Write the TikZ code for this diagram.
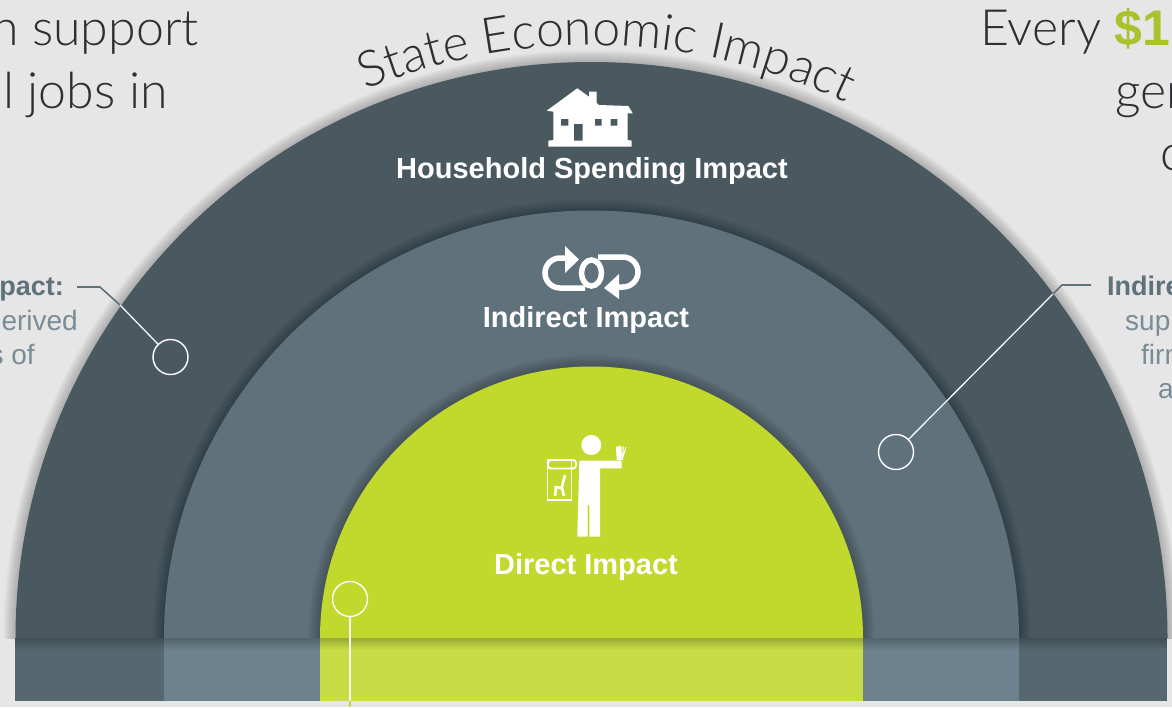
\documentclass[tikz,border=0pt]{standalone}
\usepackage{fontspec}
\setmainfont{Liberation Sans}
\newfontfamily\thinfont{Lato Light}
\usetikzlibrary{decorations.text}
\definecolor{bgc}{HTML}{E6E6E6}
\definecolor{outerc}{HTML}{49595F}
\definecolor{midc}{HTML}{5F727C}
\definecolor{innerc}{HTML}{C1D82D}
\definecolor{bandA}{HTML}{55676F}
\definecolor{bandB}{HTML}{6D828E}
\definecolor{bandC}{HTML}{C7DC45}
\definecolor{limetxt}{HTML}{A9C22E}
\definecolor{inkc}{HTML}{2F2F33}
\definecolor{softc}{HTML}{7A8C96}
\newcommand{\softshadow}[1]{%
  \begin{scope}
    \clip (0,0) rectangle (1172,638);
    \foreach \w in {2,4,...,24}{\draw[black,opacity=.02,line width=\w pt] (591.5,638) circle[radius=#1pt];}
  \end{scope}}
\tikzset{
  ring/.style={circle,draw=white,line width=1.4pt,minimum size=35pt,inner sep=0pt,fill=none},
  leader/.style={white!92!gray,line width=1.3pt},
  leaderdark/.style={midc,line width=1.6pt},
  impact/.style={white,font=\bfseries\fontsize{29}{29}\selectfont,anchor=base},
  headline/.style={inkc,font=\thinfont\fontsize{50}{50}\selectfont,anchor=base west,inner sep=0pt},
  sidebold/.style={midc,font=\bfseries\fontsize{27}{27}\selectfont,inner sep=0pt},
  sidetext/.style={softc,font=\fontsize{28}{28}\selectfont,inner sep=0pt},
  iconline/.style={draw=white,line width=5.5pt,fill=none},
  papline/.style={draw=white,line width=1.8pt,fill=none}
}
\begin{document}
\begin{tikzpicture}[x=1pt,y=-1pt]
\useasboundingbox (0,0) rectangle (1172,707);
\clip (0,0) rectangle (1172,707);
\fill[bgc] (0,0) rectangle (1172,707);
% domes
\softshadow{576}
\fill[outerc] (15.5,638) arc[start angle=180,end angle=0,radius=576pt] -- cycle;
\softshadow{427.5}
\fill[midc] (164,638) arc[start angle=180,end angle=0,radius=427.5pt] -- cycle;
\softshadow{271.5}
\fill[innerc] (320,638) arc[start angle=180,end angle=0,radius=271.5pt] -- cycle;
% base band
\fill[bandA] (15,638) rectangle (1167,701);
\fill[bandB] (164,638) rectangle (1019,701);
\fill[bandC] (320,638) rectangle (863,701);
\foreach \d in {1.5,3,...,10.5}{\fill[black,opacity=.03] (15,638) rectangle (1167,638+\d);}
% curved title
\path[decorate,decoration={text along path,text align=center,
  text={|\thinfont\fontsize{50}{50}\selectfont\color{inkc}|State Economic Impact}}]
  (355.0,94.5) arc[start angle=113.5,end angle=63.5,radius=593pt];
% house icon
\fill[white] (577.3,88.3) -- (546.7,110.7) -- (553.3,111.7) -- (553.3,140) -- (548.3,140.7) -- (548.3,146.7)
  -- (631.7,146.7) -- (631.7,140.7) -- (627.7,140) -- (627.7,113.3) -- (632.7,113.3) -- (628.3,106)
  -- (599,105) -- (596.7,103) -- (596.7,91.7) -- (589,91.7) -- (589,96.7) -- cycle;
\fill[outerc] (561,119) rectangle (568.3,125.7) (574,124) rectangle (582.7,140.7)
  (595,119) rectangle (601.7,125.7) (610.7,119) rectangle (617.3,125.7);
% cycle icon
\draw[iconline] (585,288) -- (560,288) arc[start angle=270,end angle=90,radius=15pt] -- (568,258);
\fill[white] (565,246) -- (579,259.5) -- (565,273) -- cycle;
\draw[iconline] (598,257) -- (623,257) arc[start angle=90,end angle=-90,radius=15pt] -- (616,287);
\fill[white] (619,274) -- (604,288) -- (619,299) -- cycle;
\draw[iconline] (591.5,273) ellipse[x radius=10pt,y radius=13pt];
% person icon
\fill[white] (591.3,445) circle[radius=10pt];
\fill[white] (579.3,460.7) -- (621.7,460.7) -- (621.7,468.3) -- (600,468.3) -- (600,536.7) -- (589.3,536.7)
  -- (589.3,505) -- (587.7,505) -- (587.7,536.7) -- (577.3,536.7) -- cycle;
\fill[white] (616,446.7) -- (621.7,446) -- (621.7,460) -- (616.7,460) -- cycle;
\draw[white,line width=1pt] (623.5,446.5) -- (621.8,460) (626,447) -- (622,460);
\draw[papline] (547.5,460) rectangle (571.5,500);
\draw[papline,rounded corners=3pt] (548,460) rectangle (576,468.5);
\draw[white,line width=2.6pt] (565,475) -- (561.7,488) -- (554.5,487) (556,488) -- (555,496) (562,488) -- (564,496);
% labels
\node[impact] (household) at (592,178) {Household Spending Impact};
\node[impact] (indirect) at (586,327) {Indirect Impact};
\node[impact] (direct) at (586,574) {Direct Impact};
% headlines
\node[headline,anchor=base east] (hA) at (199,45) {n support};
\node[headline,anchor=base east] (hB) at (168,108) {l jobs in};
\node[headline] (hC) at (980,45) {Every \textcolor{limetxt}{\rmfamily\bfseries\$1}};
\node[headline] (hD) at (1115,108) {gen};
\node[headline] (hE) at (1160,170) {c};
% side text
\node[sidebold,anchor=base east] (sA) at (64,295) {pact:};
\node[sidetext,anchor=base east] (sB) at (78,330) {erived};
\node[sidetext,anchor=base east] (sC) at (35,364) {s of};
\node[sidebold,anchor=base west] (sD) at (1107,295) {Indire};
\node[sidetext,anchor=base west] (sE) at (1125,330) {sup};
\node[sidetext,anchor=base west] (sF) at (1141,364) {firm};
\node[sidetext,anchor=base west] (sG) at (1158,398) {a};
% connectors
\node[ring] (cL) at (170.5,357) {};
\node[ring] (cR) at (896,452) {};
\node[ring] (cB) at (350,599) {};
\coordinate (xL) at (120,305);
\coordinate (kL) at (100,287);
\coordinate (eL) at (77,287);
\coordinate (xR) at (1053,294);
\coordinate (kR) at (1062,285);
\coordinate (eR) at (1091,285);
\coordinate (xB) at (350,701);
\coordinate (eB) at (350,707);
\draw[leader] (cL) -- (xL);
\draw[leaderdark] (xL) -- (kL) -- (eL);
\draw[leader] (cR) -- (xR);
\draw[leaderdark] (xR) -- (kR) -- (eR);
\draw[leader] (cB) -- (xB);
\draw[innerc,line width=1.6pt] (xB) -- (eB);
\end{tikzpicture}
\end{document}
